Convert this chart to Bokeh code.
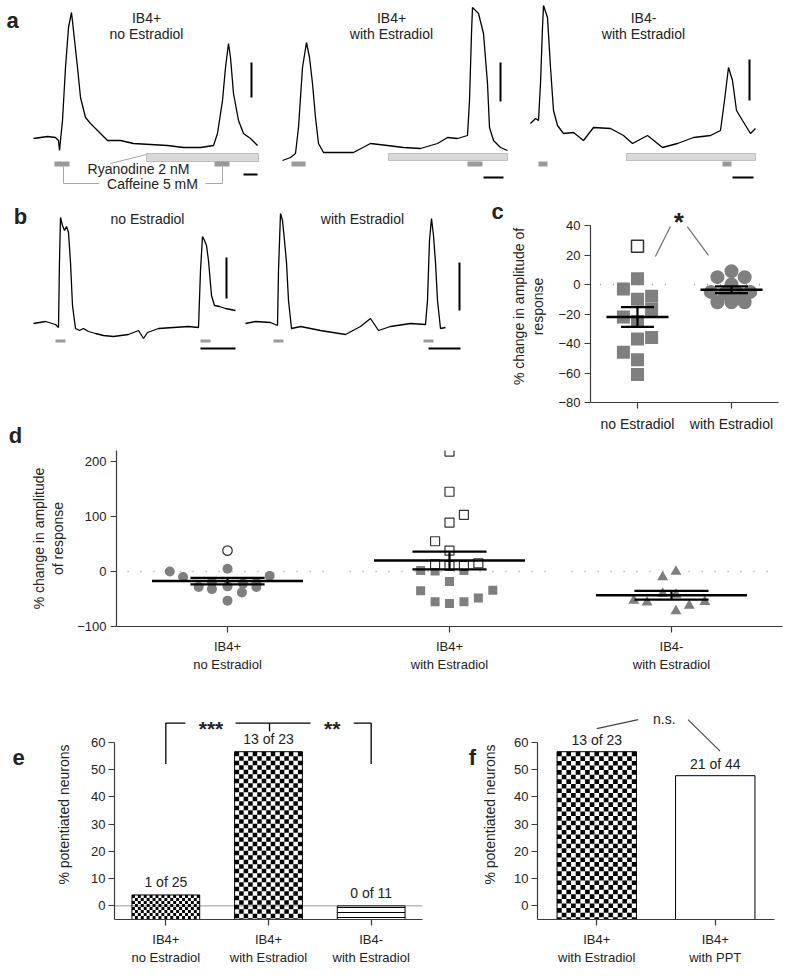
import numpy as np
from bokeh.plotting import figure
from bokeh.models import Range1d, Label, FixedTicker, Span
from bokeh.layouts import column, row
from bokeh.embed import file_html
from bokeh.resources import INLINE

FONT = "Liberation Sans"
TXT = "#222222"
AX = "#3a3a3a"
MARK = "#7f7f7f"

# ---------------- data ----------------
# panel a: Ca2+ traces (time in s, signal in a.u.)
a1_t = [0, 7, 14, 22, 25, 26, 29, 32, 35, 38, 40, 44, 47, 52, 57, 64, 74, 87, 100, 117, 134, 150, 167, 180, 184, 189, 192, 195, 197, 200, 205, 210, 217, 224]
a1_f = [12, 13, 14, 13, 10, 0, 30, 83, 123, 138, 120, 83, 53, 33, 27, 20, 10, 10, 7, 6, 5, 3, 3, 5, 17, 50, 83, 107, 93, 57, 30, 17, 12, 5]
a2_t = [2, 10, 15, 18, 22, 26, 29, 32, 35, 38, 43, 57, 73, 90, 107, 123, 140, 157, 167, 177, 187, 189, 191, 192, 198, 203, 207, 209, 213, 220, 227]
a2_f = [-10, -7, -3, 23, 83, 108, 93, 67, 33, 7, -2, -2, -2, 7, 5, 3, 2, 7, 13, 12, 15, 50, 117, 143, 137, 117, 67, 23, 10, 3, 0]
a3_t = [2, 7, 10, 12, 14, 15, 19, 22, 25, 29, 35, 45, 55, 65, 82, 95, 104, 119, 134, 149, 165, 182, 192, 196, 200, 204, 208, 214, 222, 227]
a3_f = [27, 32, 30, 67, 123, 145, 133, 83, 40, 25, 17, 18, 10, 23, 22, 15, 7, 15, 3, 7, 13, 15, 20, 50, 83, 70, 40, 30, 17, 22]
a_titles = ["IB4+\nno Estradiol", "IB4+\nwith Estradiol", "IB4-\nwith Estradiol"]
a1_caff = [(21, 36), (181, 196)]
a2_caff = [(11, 25), (187, 202)]
a3_caff = [(10, 19), (194, 203)]
a1_ryan = (113, 225)
a2_ryan = (108, 227)
a3_ryan = (98, 227)

# panel b
b1_t = [0, 12, 22, 25, 26, 27, 29, 31, 33, 35, 37, 39, 42, 46, 50, 55, 62, 70, 80, 95, 105, 110, 114, 125, 140, 155, 165, 167, 169, 171, 173, 175, 178, 181, 186, 192, 202]
b1_f = [7, 9, 6, 3, 70, 113, 105, 100, 104, 98, 68, 25, 2, 0, 2, -1, -3, -5, -6, -4, 0, -8, -2, 2, 3, 4, 3, 60, 94, 90, 85, 70, 35, 25, 24, 22, 20]
b2_t = [0, 10, 25, 32, 33, 35, 37, 39, 41, 43, 46, 55, 75, 100, 115, 125, 133, 145, 165, 180, 182, 184, 186, 188, 190, 192, 195, 200]
b2_f = [7, 9, 8, 5, 60, 117, 110, 90, 68, 30, 2, 4, 0, -4, 4, 12, 0, 4, 7, 6, 30, 90, 112, 95, 68, 30, 2, 3]
b_titles = ["no Estradiol", "with Estradiol"]
b1_caff = [(22, 32), (167, 177)]
b2_caff = [(28, 38), (178, 188)]

# panel c: % change in amplitude of response
c_cats = ["no Estradiol", "with Estradiol"]
c_no_open = [26]
c_no_open_dx = [0.0]
c_no_fill = [4, -3, -10, -8, -17, -22, -25, -37, -36, -46, -51, -61]
c_no_fill_dx = [0.0, -0.15, 0.0, 0.15, 0.15, -0.15, 0.0, 0.0, 0.15, -0.15, 0.0, 0.0]
c_with = [9, 5, 5, 0, -5, -6, -6, -5, -12, -12, -12]
c_with_dx = [0.0, -0.15, 0.14, 0.0, -0.22, -0.07, 0.07, 0.2, -0.15, 0.0, 0.14]

# panel d
d_cats = ["IB4+\nno Estradiol", "IB4+\nwith Estradiol", "IB4-\nwith Estradiol"]
d_g1_open = [38]
d_g1_open_dx = [0.0]
d_g1_fill = [0, -10, 5, -8, -20, -22, -28, -32, -27, -38, -28, -53, -21]
d_g1_fill_dx = [-0.26, -0.2, 0.0, 0.19, -0.07, 0.07, -0.13, -0.07, 0.0, 0.065, 0.13, 0.0, 0.13]
d_g2_open = [218, 145, 103, 89, 55, 38, 13, 10, 10, 15]
d_g2_open_dx = [0.0, 0.0, 0.065, 0.0, -0.065, 0.0, -0.065, 0.0, 0.065, 0.13]
d_g2_fill = [2, 1, 2, -18, -35, -34, -55, -58, -55, -48]
d_g2_fill_dx = [-0.13, -0.065, 0.065, 0.0, -0.13, 0.195, -0.065, 0.0, 0.065, 0.13]
d_g3 = [0, -10, -53, -56, -40, -72, -62, -55, -42]
d_g3_dx = [0.02, -0.04, -0.17, -0.11, -0.04, 0.02, 0.08, 0.15, 0.02]

# panels e, f: potentiated neurons
e_cats = ["IB4+\nno Estradiol", "IB4+\nwith Estradiol", "IB4-\nwith Estradiol"]
e_pos = [1, 13, 0]
e_n = [25, 23, 11]
f_cats = ["IB4+\nwith Estradiol", "IB4+\nwith PPT"]
f_pos = [13, 21]
f_n = [23, 44]


# ---------------- helpers ----------------
def lab(p, x, y, text, size="14px", bold=False, angle=0.0, align="center",
        baseline="middle", color=TXT, yoff=0):
    p.add_layout(Label(x=x, y=y, text=text, text_font=FONT, text_font_size=size,
                       text_font_style="bold" if bold else "normal", text_align=align,
                       text_baseline=baseline, angle=angle, text_color=color, y_offset=yoff))


def trace_fig(w, h, xr, yr):
    p = figure(frame_width=w, frame_height=h, min_border=0, x_range=Range1d(*xr),
               y_range=Range1d(*yr), x_axis_location=None, y_axis_location=None,
               toolbar_location=None, output_backend="svg", outline_line_color=None, title=None)
    p.grid.visible = False
    return p


def letter_fig(x0, y0, w, h, X, Y, letter):
    """blank strip holding a panel letter; X, Y are page pixels."""
    p = trace_fig(w, h, (0, w), (0, h))
    lab(p, X - x0, y0 + h - Y, letter, size="22px", bold=True)
    return p


class AxFig:
    """figure whose frame sits at a known place of the page."""

    def __init__(self, fig_x, fig_y, fx0, fx1, fy0, fy1, fig_w, fig_h, xr, yr):
        self.fx0, self.fx1, self.fy0, self.fy1 = fx0, fx1, fy0, fy1
        self.xr, self.yr = xr, yr
        left, top = fx0 - fig_x, fy0 - fig_y
        fw, fh = fx1 - fx0, fy1 - fy0
        p = figure(frame_width=fw, frame_height=fh, min_border_left=left,
                   min_border_right=fig_w - left - fw, min_border_top=top,
                   min_border_bottom=fig_h - top - fh, x_range=Range1d(*xr),
                   y_range=Range1d(*yr), toolbar_location=None, output_backend="svg",
                   outline_line_color=None, title=None)
        p.grid.visible = False
        for ax in p.axis:
            ax.axis_line_color = AX
            ax.axis_line_width = 1.2
            ax.major_tick_line_color = AX
            ax.major_tick_line_width = 1.2
            ax.major_tick_in = 0
            ax.major_tick_out = 6
            ax.minor_tick_line_color = None
            ax.major_label_text_font = FONT
            ax.major_label_text_font_size = "13px"
            ax.major_label_text_color = TXT
            ax.axis_label_text_font = FONT
            ax.axis_label_text_font_size = "14px"
            ax.axis_label_text_font_style = "normal"
            ax.axis_label_text_color = TXT
        self.p = p


def mean_sem(v):
    a = np.asarray(v, dtype=float)
    return a.mean(), a.std(ddof=1) / np.sqrt(len(a))


def mean_bars(p, g, vals, hw, cw, lw=2.5):
    m, s = mean_sem(vals)
    p.segment(x0=[g - hw], x1=[g + hw], y0=[m], y1=[m], line_color="black", line_width=lw)
    p.segment(x0=[g, g - cw, g - cw], x1=[g, g + cw, g + cw], y0=[m - s, m + s, m - s],
              y1=[m + s, m + s, m - s], line_color="black", line_width=lw - 0.3)


def trace_panel(p, t, f, caff, ryan, caff_y, ryan_y, vbar, hbar):
    if ryan is not None:
        p.quad(left=[ryan[0]], right=[ryan[1]], bottom=[ryan_y[0]], top=[ryan_y[1]],
               fill_color="#d9d9d9", line_color="#bdbdbd", line_width=1)
    p.quad(left=[c[0] for c in caff], right=[c[1] for c in caff], bottom=caff_y[0], top=caff_y[1],
           fill_color="#9a9a9a", line_color=None)
    p.line(t, f, line_color="black", line_width=1.3)
    p.segment(x0=[vbar[0], hbar[0]], x1=[vbar[0], hbar[1]], y0=[vbar[1], hbar[2]],
              y1=[vbar[2], hbar[2]], line_color="black", line_width=2)


def checker(p, xc, width, y0, y1, cell_px, ax):
    """black/white checkerboard texture filling a bar (decoration of the bar)."""
    ppx = (ax.fx1 - ax.fx0) / (ax.xr[1] - ax.xr[0])
    ppy = (ax.fy1 - ax.fy0) / (ax.yr[1] - ax.yr[0])
    nx = max(1, int(round(width * ppx / cell_px)))
    cw = width / nx
    ch = cell_px / ppy
    ny = int(np.ceil((y1 - y0) / ch))
    L, R, B, T = [], [], [], []
    for i in range(nx):
        for j in range(ny):
            if (i + j) % 2 == 0:
                l = xc - width / 2 + i * cw
                b = y1 - (j + 1) * ch
                L.append(l)
                R.append(l + cw)
                B.append(max(b, y0))
                T.append(b + ch)
    p.quad(left=L, right=R, bottom=B, top=T, fill_color="black", line_color=None)


# ---------------- panel a ----------------
AY = (-48, 150)
pa1 = trace_fig(270, 198, (-33, 237), AY)
pa2 = trace_fig(250, 198, (-10, 240), AY)
pa3 = trace_fig(267, 198, (-8, 259), AY)
trace_panel(pa1, a1_t, a1_f, a1_caff, a1_ryan, (-16, -11), (-11, -3), (218, 53, 88), (210, 224, -24))
trace_panel(pa2, a2_t, a2_f, a2_caff, a2_ryan, (-16, -11), (-10, -3), (220, 49, 88), (203, 223, -27))
trace_panel(pa3, a3_t, a3_f, a3_caff, a3_ryan, (-16, -11), (-10, -3), (221, 50, 91), (204, 225, -27))
for p, tx, ttl in ((pa1, 113, a_titles[0]), (pa2, 111, a_titles[1]), (pa3, 115, a_titles[2])):
    l1, l2 = ttl.split("\n")
    lab(p, tx, 133, l1)
    lab(p, tx, 117, l2)
lab(pa1, -21, 130, "a", size="22px", bold=True)
lab(pa1, 105, -18, "Ryanodine 2 nM")
lab(pa1, 119, -33, "Caffeine 5 mM")
pa1.line([30, 30, 66], [-16, -33, -33], line_color="#a8a8a8", line_width=1)
pa1.line([172, 189, 189], [-33, -33, -16], line_color="#a8a8a8", line_width=1)
pa1.line([77, 113], [-13, -4], line_color="#a8a8a8", line_width=1)

# ---------------- panel b ----------------
BY = (-28, 132)
pb1 = trace_fig(240, 160, (-33, 207), BY)
pb2 = trace_fig(268, 160, (-5, 263), BY)
trace_panel(pb1, b1_t, b1_f, b1_caff, None, (-12, -9), None, (193, 32, 73), (167, 202, -18))
trace_panel(pb2, b2_t, b2_f, b2_caff, None, (-12, -9), None, (214, 20, 68), (183, 215, -18))
lab(pb1, 114, 112, b_titles[0])
lab(pb2, 117, 112, b_titles[1])
lab(pb1, -13, 114, "b", size="22px", bold=True)
lab(pb2, 252, 119, "c", size="22px", bold=True)   # panel letter of c sits in this strip

pdl = letter_fig(0, 358, 508, 92, 15, 435, "d")

# ---------------- panel c ----------------
C = AxFig(508, 198, 580, 768, 210, 402, 279, 252, (-0.5, 1.5), (-80, 50.2))
pc = C.p
pc.yaxis.ticker = FixedTicker(ticks=[-80, -60, -40, -20, 0, 20, 40])
pc.yaxis.bounds = (-80, 40)
pc.yaxis.major_label_standoff = 4
pc.yaxis.axis_label = "% change in amplitude of\nresponse"
pc.yaxis.axis_label_standoff = 9
pc.xaxis.ticker = FixedTicker(ticks=[0, 1])
pc.xaxis.major_label_overrides = {i: c for i, c in enumerate(c_cats)}
pc.xaxis.major_label_standoff = 7
pc.xaxis.major_label_text_font_size = "14px"
for g in (0, 1):
    pc.segment(x0=[g - 0.4], x1=[g + 0.4], y0=[0], y1=[0], line_color="#9a9a9a",
               line_width=1.5, line_dash="1 12")
pc.scatter([0 + d for d in c_no_fill_dx], c_no_fill, marker="square", size=13,
           fill_color=MARK, line_color=None)
pc.scatter([0 + d for d in c_no_open_dx], c_no_open, marker="square", size=12,
           fill_color="white", line_color="#333333", line_width=1.5)
pc.scatter([1 + d for d in c_with_dx], c_with, marker="circle", size=14,
           fill_color=MARK, line_color=None)
mean_bars(pc, 0, c_no_open + c_no_fill, 0.33, 0.175)
mean_bars(pc, 1, c_with, 0.33, 0.175)
pc.segment(x0=[0.19, 0.53], x1=[0.35, 0.755], y0=[19, 39.3], y1=[39.3, 19.7],
           line_color="#707070", line_width=1.2)
lab(pc, 0.44, 45, "*", size="26px", bold=True, yoff=-4)

# ---------------- panel d ----------------
D = AxFig(0, 450, 116, 782, 450, 626, 787, 218, (-0.5, 2.5), (-100, 220))
pd_ = D.p
pd_.yaxis.ticker = FixedTicker(ticks=[-100, 0, 100, 200])
pd_.yaxis.major_label_standoff = 4
pd_.yaxis.axis_label = "% change in amplitude\nof response"
pd_.yaxis.axis_label_standoff = 8
pd_.xaxis.ticker = FixedTicker(ticks=[0, 1, 2])
pd_.xaxis.major_label_overrides = {i: c for i, c in enumerate(d_cats)}
pd_.xaxis.major_label_standoff = 6
for g in (0, 1, 2):
    pd_.segment(x0=[g - 0.45], x1=[g + 0.45], y0=[0], y1=[0], line_color="#9a9a9a",
                line_width=1.5, line_dash="1 12")
pd_.scatter([0 + d for d in d_g1_fill_dx], d_g1_fill, marker="circle", size=10,
            fill_color=MARK, line_color=None)
pd_.scatter([0 + d for d in d_g1_open_dx], d_g1_open, marker="circle", size=9.5,
            fill_color="white", line_color="#333333", line_width=1.2)
pd_.scatter([1 + d for d in d_g2_fill_dx], d_g2_fill, marker="square", size=9,
            fill_color=MARK, line_color=None)
pd_.scatter([1 + d for d in d_g2_open_dx], d_g2_open, marker="square", size=9,
            fill_color="white", line_color="#333333", line_width=1.2)
pd_.scatter([2 + d for d in d_g3_dx], d_g3, marker="triangle", size=11,
            fill_color=MARK, line_color=None)
mean_bars(pd_, 0, d_g1_open + d_g1_fill, 0.34, 0.167)
mean_bars(pd_, 1, d_g2_open + d_g2_fill, 0.34, 0.167)
mean_bars(pd_, 2, d_g3, 0.34, 0.167)

# ---------------- panels e, f ----------------
def bar_axes(ax, n, cats):
    p = ax.p
    p.yaxis.ticker = FixedTicker(ticks=[0, 10, 20, 30, 40, 50, 60])
    p.yaxis.bounds = (-5, 60)
    p.yaxis.major_label_standoff = 3
    p.yaxis.axis_label = "% potentiated neurons"
    p.yaxis.axis_label_standoff = 16
    p.xaxis.ticker = FixedTicker(ticks=list(range(1, n + 1)))
    p.xaxis.major_label_standoff = 6
    p.xaxis.major_label_overrides = {i + 1: c for i, c in enumerate(cats)}


pel = letter_fig(0, 668, 32, 310, 18, 716, "e")
E = AxFig(32, 668, 114, 422, 703, 913, 398, 310, (0.5, 3.5), (-5, 72))
pe = E.p
bar_axes(E, 3, e_cats)
e_pct = [100.0 * a / b for a, b in zip(e_pos, e_n)]
EW = 0.66
pe.add_layout(Span(location=0, dimension="width", line_color="#9a9a9a", line_width=1,
                   level="underlay"))
checker(pe, 1, EW, -5, e_pct[0], 3, E)
checker(pe, 2, EW, -5, e_pct[1], 4.5, E)
pe.vbar(x=[1, 2], top=e_pct[:2], bottom=-5, width=EW, fill_alpha=0, line_color="black",
        line_width=1)
pe.vbar(x=[3], top=[e_pct[2]], bottom=-5, width=EW, fill_color="white", line_color="black",
        line_width=1, hatch_pattern="horizontal_line", hatch_color="black", hatch_scale=5,
        hatch_weight=1)
for i, (a, b) in enumerate(zip(e_pos, e_n)):
    lab(pe, i + 1, e_pct[i], f"{a} of {b}", yoff=13)
pe.line([1, 1, 1.19], [52, 67, 67], line_color="black", line_width=1.3)
pe.line([1.68, 2.41], [67, 67], line_color="black", line_width=1.3)
pe.line([2.83, 3, 3], [67, 67, 52], line_color="black", line_width=1.3)
pe.line([2.01, 2.01], [67, 64], line_color="black", line_width=1.3)
lab(pe, 1.44, 67, "***", size="21px", bold=True, yoff=-5)
lab(pe, 2.62, 67, "**", size="21px", bold=True, yoff=-5)

pfl = letter_fig(430, 668, 49, 310, 472, 716, "f")
F = AxFig(479, 668, 536, 773, 703, 913, 308, 310, (0.5, 2.5), (-5, 72))
pf = F.p
bar_axes(F, 2, f_cats)
pf.yaxis.axis_label_standoff = 13
f_pct = [100.0 * a / b for a, b in zip(f_pos, f_n)]
FW = 0.67
checker(pf, 1, FW, -5, f_pct[0], 4.6, F)
pf.vbar(x=[1], top=[f_pct[0]], bottom=-5, width=FW, fill_alpha=0, line_color="black",
        line_width=1)
pf.vbar(x=[2], top=[f_pct[1]], bottom=-5, width=FW, fill_color="white", line_color="black",
        line_width=1)
for i, (a, b) in enumerate(zip(f_pos, f_n)):
    lab(pf, i + 1, f_pct[i], f"{a} of {b}", yoff=12)
pf.segment(x0=[1.0, 1.77], x1=[1.35, 2.04], y0=[65, 68.3], y1=[68.3, 56.7],
           line_color="#444444", line_width=1.1)
lab(pf, 1.57, 68.5, "n.s.")

# ---------------- layout ----------------
layout = column(
    row(pa1, pa2, pa3),
    row(column(row(pb1, pb2), pdl), pc),
    pd_,
    row(pel, pe, pfl, pf),
)
open("out.html", "w").write(file_html(layout, INLINE, "Figure"))
